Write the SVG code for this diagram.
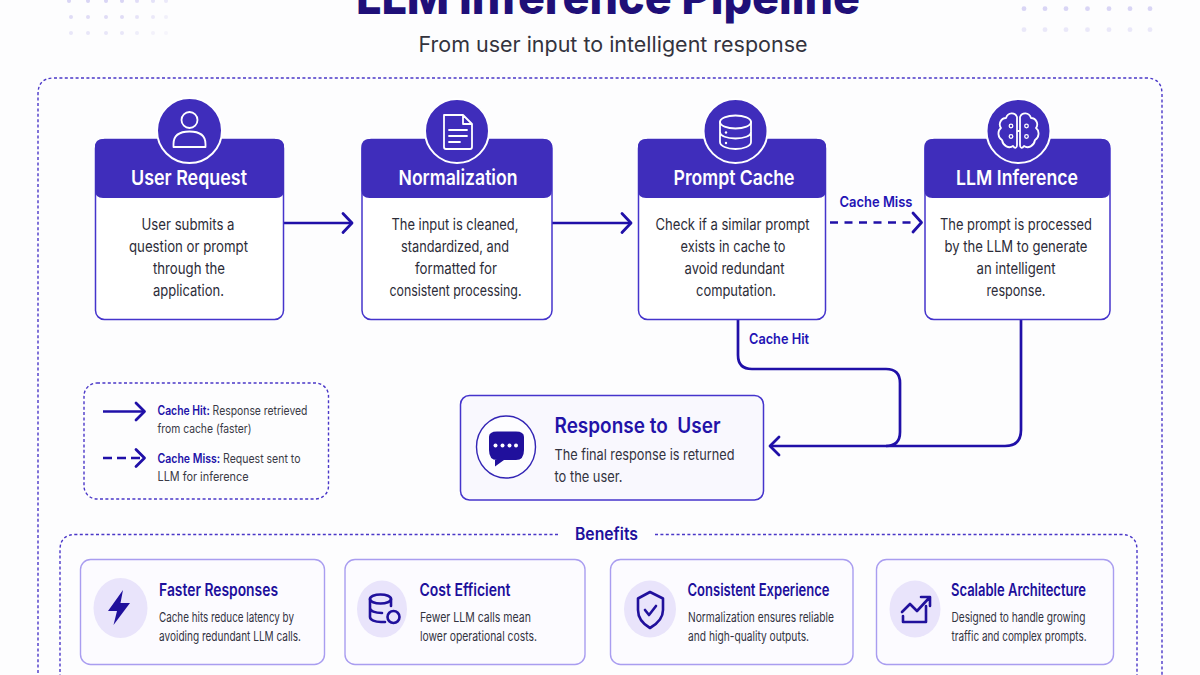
<svg xmlns="http://www.w3.org/2000/svg" width="1200" height="675" viewBox="0 0 1200 675">
<style>
text{font-family:Inter,"Liberation Sans",sans-serif}
.hd{font-size:20.5px;font-weight:600;fill:#fff;text-anchor:middle}
.bd{font-size:15.5px;fill:#2c2c38;text-anchor:middle}
.lab{font-size:14.5px;font-weight:600;fill:#2212b4}
.lg{font-size:12.5px;fill:#3a3a46}
.lgb{font-weight:600;fill:#2212a8}
.bt{font-size:17px;font-weight:600;fill:#1d109c}
.bdsc{font-size:13.5px;fill:#33333f}
.card{fill:#fcfbff;stroke:#a99df0;stroke-width:1.4}
.blob{fill:#e9e4fb}
.nodebox{fill:#fff;stroke:#4534cc;stroke-width:1.5}
.head{fill:#3f2dbb}
.badge{fill:#3f2dbb;stroke:#fff;stroke-width:2}
.ic{fill:none;stroke:#fff;stroke-width:1.8;stroke-linecap:round;stroke-linejoin:round}
.bic{fill:none;stroke:#20109c;stroke-width:2.6;stroke-linecap:round;stroke-linejoin:round}
.dash{fill:none;stroke:#4a37c8;stroke-width:1.4;stroke-dasharray:3 2.4}
.con{fill:none;stroke:#2010a8;stroke-width:2.7;stroke-linejoin:round}
.d{stroke-dasharray:8 6.500}
.ah{fill:none;stroke:#2010a8;stroke-width:2.8;stroke-linecap:round;stroke-linejoin:round}
.dots1{fill:#d9d5f5}
</style>
<rect width="1200" height="675" fill="#fdfdfe"/>
<g id="decor" class="dots1">
<g><circle cx="69" cy="1" r="2"/><circle cx="88" cy="1" r="2"/><circle cx="106" cy="1" r="2"/><circle cx="122" cy="1" r="2"/><circle cx="137" cy="1" r="2" opacity=".8"/><circle cx="153" cy="1" r="2" opacity=".7"/><circle cx="166" cy="1" r="2" opacity=".5"/></g>
<g opacity=".8"><circle cx="71" cy="17" r="2"/><circle cx="88" cy="17" r="2"/><circle cx="106" cy="17" r="2"/><circle cx="122" cy="17" r="2"/><circle cx="137" cy="17" r="2" opacity=".8"/><circle cx="153" cy="17" r="2" opacity=".6"/><circle cx="166" cy="17" r="2" opacity=".4"/></g>
<g opacity=".55"><circle cx="71" cy="33" r="2"/><circle cx="88" cy="33" r="2"/><circle cx="106" cy="33" r="2"/><circle cx="122" cy="33" r="2"/><circle cx="137" cy="33" r="2" opacity=".7"/><circle cx="153" cy="33" r="2" opacity=".5"/><circle cx="166" cy="33" r="2" opacity=".3"/></g>
<g><circle cx="1024" cy="8.700" r="2.400"/><circle cx="1045" cy="8.700" r="2.400"/><circle cx="1066" cy="8.700" r="2.400"/><circle cx="1087.500" cy="8.700" r="2.400"/><circle cx="1109" cy="8.700" r="2.400"/><circle cx="1130" cy="8.700" r="2.400"/><circle cx="1150" cy="8.700" r="2.400"/></g>
<g opacity=".5"><circle cx="1024" cy="29.700" r="2.400"/><circle cx="1045" cy="29.700" r="2.400"/><circle cx="1066" cy="29.700" r="2.400"/><circle cx="1087.500" cy="29.700" r="2.400"/><circle cx="1109" cy="29.700" r="2.400"/><circle cx="1130" cy="29.700" r="2.400"/><circle cx="1150" cy="29.700" r="2.400"/></g>
</g>
<g id="title">
<text x="608" y="13.500" text-anchor="middle" font-size="48" font-weight="800" fill="#1f0f78" textLength="504" lengthAdjust="spacingAndGlyphs">LLM Inference Pipeline</text>
<text x="613" y="52" text-anchor="middle" font-size="21" fill="#33333d" textLength="389" lengthAdjust="spacingAndGlyphs">From user input to intelligent response</text>
</g>
<path id="pipeline-frame" class="dash" d="M38 700V94Q38 78 54 78H1146Q1162 78 1162 94V700"/>
<g id="connectors">
<path class="con" d="M284 223H351"/><path class="ah" d="M343 213.500L352 223L343 232.500"/>
<path class="con" d="M552 223H630"/><path class="ah" d="M622 213.500L631 223L622 232.500"/>
<path class="con d" d="M830 222.500H916"/><path class="ah" d="M913 213L921.500 222.500L913 232"/>
<path class="con" d="M738 320V355Q738 369 752 369H886Q900 369 900 383V432Q900 446 886 446"/>
<path class="con" d="M1021 320V430Q1021 446 1005 446H771"/><path class="ah" d="M779 437L770 446L779 455"/>
<text class="lab" x="876" y="206.500" text-anchor="middle" textLength="73" lengthAdjust="spacingAndGlyphs">Cache Miss</text>
<text class="lab" x="749" y="344" textLength="60" lengthAdjust="spacingAndGlyphs">Cache Hit</text>
</g>
<g id="node-user-request">
<rect class="nodebox" x="95.500" y="139.500" width="188" height="180" rx="9"/>
<path class="head" d="M95 147Q95 139 103 139H276Q284 139 284 147V190Q284 198 276 198H103Q95 198 95 190Z"/>
<circle class="badge" cx="189.500" cy="130.500" r="32.500"/>
<circle class="ic" cx="189.500" cy="120" r="8"/><path class="ic" d="M173.500 147V144C173.500 135 180 131.500 189.500 131.500S205.500 135 205.500 144V147Z"/>
<text class="hd" x="189" y="185" textLength="116" lengthAdjust="spacingAndGlyphs">User Request</text>
<text class="bd" x="188" y="230" textLength="93" lengthAdjust="spacingAndGlyphs">User submits a</text>
<text class="bd" x="188.500" y="252" textLength="119" lengthAdjust="spacingAndGlyphs">question or prompt</text>
<text class="bd" x="189" y="274" textLength="72" lengthAdjust="spacingAndGlyphs">through the</text>
<text class="bd" x="188.500" y="296" textLength="71" lengthAdjust="spacingAndGlyphs">application.</text>
</g>
<g id="node-normalization">
<rect class="nodebox" x="362" y="139.500" width="190" height="180" rx="9"/>
<path class="head" d="M361.500 147Q361.500 139 369.500 139H544Q552 139 552 147V190Q552 198 544 198H369.500Q361.500 198 361.500 190Z"/>
<circle class="badge" cx="457" cy="131" r="32"/>
<path class="ic" d="M444 115H463L472 124V147Q472 149 470 149H446Q444 149 444 147ZM463 115V124H472M449 130H467M449 136H467M449 142H460"/>
<text class="hd" x="458" y="185" textLength="119" lengthAdjust="spacingAndGlyphs">Normalization</text>
<text class="bd" x="455" y="230" textLength="127" lengthAdjust="spacingAndGlyphs">The input is cleaned,</text>
<text class="bd" x="455" y="252" textLength="108" lengthAdjust="spacingAndGlyphs">standardized, and</text>
<text class="bd" x="456" y="274" textLength="82" lengthAdjust="spacingAndGlyphs">formatted for</text>
<text class="bd" x="455.500" y="296" textLength="132" lengthAdjust="spacingAndGlyphs">consistent processing.</text>
</g>
<g id="node-prompt-cache">
<rect class="nodebox" x="638.500" y="139.500" width="187" height="180" rx="9"/>
<path class="head" d="M638 147Q638 139 646 139H818Q826 139 826 147V190Q826 198 818 198H646Q638 198 638 190Z"/>
<circle class="badge" cx="735.500" cy="131" r="32"/>
<ellipse class="ic" cx="735.500" cy="122" rx="15.500" ry="6.500"/><path class="ic" d="M720 122V142C720 146 727 149 735.500 149S751 146 751 142V122M720 132C720 136 727 138.500 735.500 138.500S751 136 751 132"/>
<circle cx="726" cy="132.500" r="1.200" fill="#fff"/><circle cx="726" cy="143" r="1.200" fill="#fff"/>
<text class="hd" x="734" y="185" textLength="121" lengthAdjust="spacingAndGlyphs">Prompt Cache</text>
<text class="bd" x="732.500" y="230" textLength="154" lengthAdjust="spacingAndGlyphs">Check if a similar prompt</text>
<text class="bd" x="733" y="252" textLength="105" lengthAdjust="spacingAndGlyphs">exists in cache to</text>
<text class="bd" x="734.500" y="274" textLength="100" lengthAdjust="spacingAndGlyphs">avoid redundant</text>
<text class="bd" x="736" y="296" textLength="80" lengthAdjust="spacingAndGlyphs">computation.</text>
</g>
<g id="node-llm-inference">
<rect class="nodebox" x="925" y="139.500" width="185" height="180" rx="9"/>
<path class="head" d="M924.500 147Q924.500 139 932.500 139H1102Q1110 139 1110 147V190Q1110 198 1102 198H932.500Q924.500 198 924.500 190Z"/>
<circle class="badge" cx="1018.500" cy="131" r="32"/>
<path class="ic" d="M1017 117C1015 112 1008 112 1006 118C1001 118 998 124 1001 128C997 131 998 138 1002 140C1003 146 1009 149 1013 146C1015 149 1017 148 1017 145ZM1020 117C1022 112 1029 112 1031 118C1036 118 1039 124 1036 128C1040 131 1039 138 1035 140C1034 146 1028 149 1024 146C1022 149 1020 148 1020 145ZM1017 131H1020"/>
<g fill="none" stroke="#fff" stroke-width="1.300"><circle cx="1011" cy="126" r="1.800"/><circle cx="1011" cy="136.500" r="1.800"/><circle cx="1026.500" cy="126" r="1.800"/><circle cx="1026.500" cy="136.500" r="1.800"/></g>
<text class="hd" x="1017" y="185" textLength="122" lengthAdjust="spacingAndGlyphs">LLM Inference</text>
<text class="bd" x="1016" y="230" textLength="152" lengthAdjust="spacingAndGlyphs">The prompt is processed</text>
<text class="bd" x="1016" y="252" textLength="143" lengthAdjust="spacingAndGlyphs">by the LLM to generate</text>
<text class="bd" x="1016" y="274" textLength="79" lengthAdjust="spacingAndGlyphs">an intelligent</text>
<text class="bd" x="1016" y="296" textLength="59" lengthAdjust="spacingAndGlyphs">response.</text>
</g>
<g id="legend">
<rect class="dash" x="84" y="383" width="244.500" height="116" rx="13"/>
<path class="con" d="M103 411.500H143"/><path class="ah" d="M136 403L144.500 411.500L136 420"/>
<path class="con" d="M103 458H143" stroke-dasharray="9 5"/><path class="ah" d="M136 449.500L144.500 458L136 466.500"/>
<text class="lg" x="157.500" y="414.500" textLength="150" lengthAdjust="spacingAndGlyphs"><tspan class="lgb">Cache Hit:</tspan> Response retrieved</text>
<text class="lg" x="157.500" y="432.500" textLength="94" lengthAdjust="spacingAndGlyphs">from cache (faster)</text>
<text class="lg" x="157.500" y="462.500" textLength="143" lengthAdjust="spacingAndGlyphs"><tspan class="lgb">Cache Miss:</tspan> Request sent to</text>
<text class="lg" x="157.500" y="480.500" textLength="91" lengthAdjust="spacingAndGlyphs">LLM for inference</text>
</g>
<g id="node-response">
<rect x="460.500" y="395.500" width="303" height="104.500" rx="9" fill="#f9f8fe" stroke="#4534cc" stroke-width="1.500"/>
<ellipse cx="506" cy="447" rx="29.500" ry="31" fill="#fdfdff" stroke="#3325b5" stroke-width="1.400"/>
<path d="M489 437V450Q489 460 497 460H495L495 466.500L504 460H516Q524 460 524 450V437Q524 431.500 516 431.500H497Q489 431.500 489 437Z" fill="#20109c"/>
<g fill="#fff"><circle cx="495.500" cy="445.500" r="2"/><circle cx="502.500" cy="445.500" r="2"/><circle cx="509.500" cy="445.500" r="2"/><circle cx="516" cy="445.500" r="2"/></g>
<text x="554.500" y="433" font-size="21" font-weight="600" fill="#2212a8" textLength="166" lengthAdjust="spacingAndGlyphs" xml:space="preserve">Response to  User</text>
<text x="554.500" y="460" font-size="15" fill="#33333f" textLength="180" lengthAdjust="spacingAndGlyphs">The final response is returned</text>
<text x="554.500" y="482" font-size="15" fill="#33333f" textLength="68" lengthAdjust="spacingAndGlyphs">to the user.</text>
</g>
<g id="benefits">
<path class="dash" d="M558 534.500H76Q60 534.500 60 550V700M655 534.500H1121Q1137 534.500 1137 550V700"/>
<text x="606.500" y="540" text-anchor="middle" font-size="17" font-weight="600" fill="#1d109c" textLength="63" lengthAdjust="spacingAndGlyphs">Benefits</text>
</g>
<g id="benefit-faster">
<rect class="card" x="80.500" y="559.500" width="244" height="105" rx="10"/>
<ellipse class="blob" cx="120.500" cy="608" rx="27" ry="30"/>
<path d="M123 590L108 611H117L113.500 625L130 603H120.500Z" fill="#20109c"/>
<text class="bt" x="159" y="596" textLength="119" lengthAdjust="spacingAndGlyphs">Faster Responses</text>
<text class="bdsc" x="159" y="622" textLength="135" lengthAdjust="spacingAndGlyphs">Cache hits reduce latency by</text>
<text class="bdsc" x="159" y="641" textLength="142" lengthAdjust="spacingAndGlyphs">avoiding redundant LLM calls.</text>
</g>
<g id="benefit-cost">
<rect class="card" x="345" y="559.500" width="240" height="105" rx="10"/>
<ellipse class="blob" cx="382" cy="609" rx="25" ry="28.500"/>
<ellipse class="bic" cx="380.500" cy="599" rx="10.500" ry="4.500"/><path class="bic" d="M370 599V617C370 620 375 622 381 622H385M370 608C370 611 375 613 382 613M391 599V606"/><circle class="bic" cx="393.500" cy="617" r="6"/>
<text class="bt" x="419.500" y="596" textLength="91" lengthAdjust="spacingAndGlyphs">Cost Efficient</text>
<text class="bdsc" x="420" y="622" textLength="111" lengthAdjust="spacingAndGlyphs">Fewer LLM calls mean</text>
<text class="bdsc" x="420" y="641" textLength="117" lengthAdjust="spacingAndGlyphs">lower operational costs.</text>
</g>
<g id="benefit-consistent">
<rect class="card" x="610.500" y="559.500" width="242.500" height="105" rx="10"/>
<ellipse class="blob" cx="650" cy="609" rx="26" ry="28.500"/>
<path class="bic" d="M650 592L638 598.500V610C638 618 643 624 650 628C657 624 663 618 663 610V598.500Z"/><path class="bic" d="M645 610L649 615L656 606" stroke-width="2"/>
<text class="bt" x="687.500" y="596" textLength="142" lengthAdjust="spacingAndGlyphs">Consistent Experience</text>
<text class="bdsc" x="688" y="622" textLength="146" lengthAdjust="spacingAndGlyphs">Normalization ensures reliable</text>
<text class="bdsc" x="688" y="641" textLength="121" lengthAdjust="spacingAndGlyphs">and high-quality outputs.</text>
</g>
<g id="benefit-scalable">
<rect class="card" x="876.500" y="559.500" width="237" height="105" rx="10"/>
<ellipse class="blob" cx="915" cy="609" rx="25.500" ry="28.500"/>
<path class="bic" d="M902 612L910 604L917 611L929 598M921 597H930V606M903 622H926V606M903 622V616"/>
<text class="bt" x="951" y="596" textLength="135" lengthAdjust="spacingAndGlyphs">Scalable Architecture</text>
<text class="bdsc" x="951.500" y="622" textLength="134" lengthAdjust="spacingAndGlyphs">Designed to handle growing</text>
<text class="bdsc" x="951.500" y="641" textLength="135" lengthAdjust="spacingAndGlyphs">traffic and complex prompts.</text>
</g>
</svg>
